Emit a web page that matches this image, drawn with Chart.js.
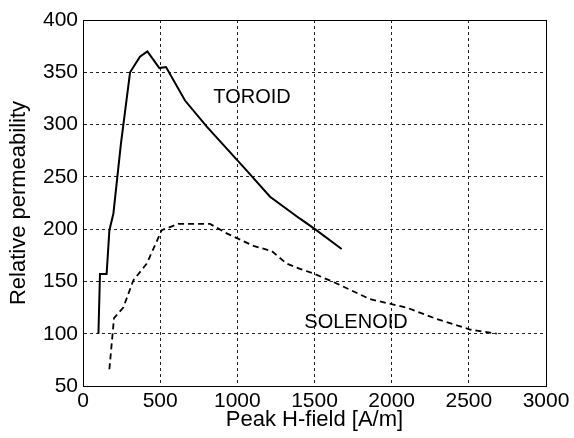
<!DOCTYPE html>
<html lang="en">
<head>
  <meta charset="UTF-8">
  <title>Relative permeability vs peak H-field</title>
  <script src="https://cdn.jsdelivr.net/npm/chart.js"></script>
  <style>
    html, body { margin: 0; padding: 0; background: #fff; }
    #wrap { width: 574px; height: 438px; }
  </style>
</head>
<body>
  <div id="wrap"><canvas id="permChart" width="574" height="438"></canvas></div>

  <script>
    // toroid curve (solid)
    const toroidH = [100, 110, 153, 171, 197, 246, 305, 369, 417, 495, 538, 661, 802, 1061, 1212, 1406, 1503, 1676];
    const toroidMu = [100, 157, 157, 199, 215, 282, 350, 365, 370, 354, 355, 323, 298, 256, 231, 210, 200, 181];

    // solenoid curve (dashed)
    const solenoidH = [171, 201, 261, 326, 413, 510, 618, 823, 931, 1104, 1223, 1320, 1406, 1504, 1644, 1860, 2097, 2292, 2508, 2681];
    const solenoidMu = [66, 115, 125, 151, 167, 199, 205, 205, 196, 184, 179, 167, 162, 157, 148, 133, 125, 114, 104, 100];

    const curveLabels = ['TOROID', 'SOLENOID'];
    const labelH = [1095, 1769];
    const labelMu = [326, 111];

    const FONT = '"Liberation Sans", Arial, sans-serif';

    function toPoints(xs, ys) {
      return xs.map((x, i) => ({ x: x, y: ys[i] }));
    }

    // draws the curve names and the closed box round the plot
    const extras = {
      id: 'extras',
      afterDraw(chart) {
        const ctx = chart.ctx;
        const a = chart.chartArea;
        const xs = chart.scales.x;
        const ys = chart.scales.y;
        ctx.save();
        ctx.strokeStyle = '#000';
        ctx.lineWidth = 1;
        ctx.strokeRect(a.left + 0.5, a.top + 0.5, a.right - a.left, a.bottom - a.top);
        ctx.fillStyle = '#000';
        ctx.font = '20px ' + FONT;
        ctx.textAlign = 'center';
        ctx.textBaseline = 'middle';
        curveLabels.forEach((t, i) => {
          ctx.fillText(t, xs.getPixelForValue(labelH[i]), ys.getPixelForValue(labelMu[i]));
        });
        ctx.restore();
      }
    };

    const gridStyle = {
      color: '#222',
      lineWidth: 1,
      drawTicks: false
    };

    new Chart(document.getElementById('permChart'), {
      type: 'line',
      data: {
        datasets: [{
          label: 'Toroid',
          data: toPoints(toroidH, toroidMu),
          borderColor: '#000',
          borderWidth: 2,
          pointRadius: 0,
          tension: 0,
          fill: false
        }, {
          label: 'Solenoid',
          data: toPoints(solenoidH, solenoidMu),
          borderColor: '#000',
          borderWidth: 1.8,
          borderDash: [6, 4],
          pointRadius: 0,
          tension: 0,
          fill: false
        }]
      },
      options: {
        responsive: false,
        animation: false,
        layout: { padding: { top: 20, right: 28, left: 0, bottom: 0 } },
        plugins: {
          legend: { display: false },
          tooltip: { enabled: false }
        },
        scales: {
          x: {
            type: 'linear',
            min: 0,
            max: 3000,
            afterFit: s => { s.height = 52; },
            ticks: {
              stepSize: 500,
              padding: 3,
              color: '#000',
              callback: v => String(v),
              font: { family: FONT, size: 21 }
            },
            grid: gridStyle,
            border: { display: true, color: '#000', width: 1, dash: [3, 3] },
            title: {
              display: true,
              text: 'Peak H-field [A/m]',
              color: '#000',
              padding: { top: 0, bottom: 5 },
              font: { family: FONT, size: 22 }
            }
          },
          y: {
            type: 'linear',
            min: 50,
            max: 400,
            afterFit: s => { s.width = 83; },
            ticks: {
              stepSize: 50,
              padding: 5,
              color: '#000',
              callback: v => String(v),
              font: { family: FONT, size: 21 }
            },
            grid: gridStyle,
            border: { display: true, color: '#000', width: 1, dash: [3, 3] },
            title: {
              display: true,
              text: 'Relative permeability',
              color: '#000',
              padding: { top: 6, bottom: 0 },
              font: { family: FONT, size: 22 }
            }
          }
        }
      },
      plugins: [extras]
    });
  </script>
</body>
</html>
